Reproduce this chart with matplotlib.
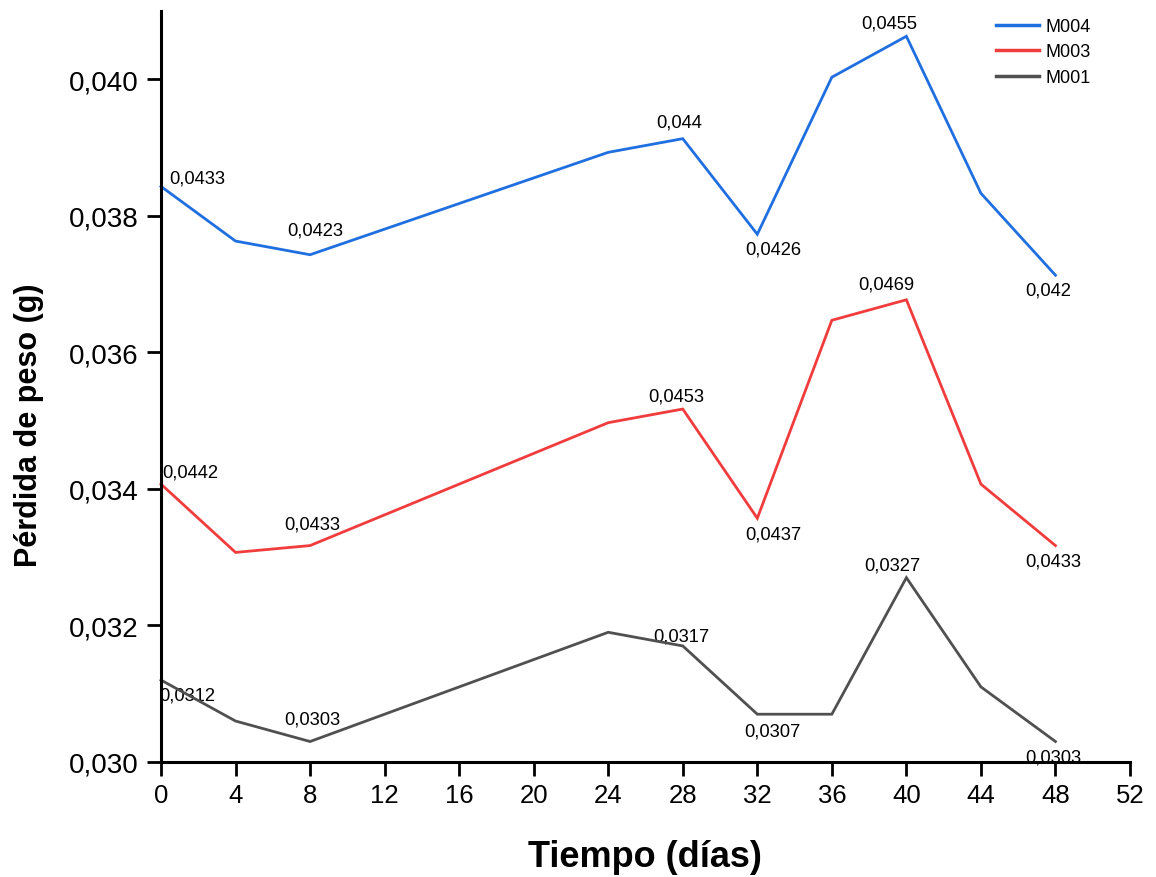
import matplotlib
matplotlib.use("Agg")
import matplotlib.pyplot as plt
from matplotlib.ticker import FuncFormatter, MultipleLocator

plt.rcParams['font.family'] = ['Liberation Sans', 'DejaVu Sans']

# Sampling days
days = [0, 4, 8, 24, 28, 32, 36, 40, 44, 48]

# Weight loss (g) per sample
m004 = [0.0433, 0.0425, 0.0423, 0.0438, 0.0440, 0.0426, 0.0449, 0.0455, 0.0432, 0.0420]
m003 = [0.0442, 0.0432, 0.0433, 0.0451, 0.0453, 0.0437, 0.0466, 0.0469, 0.0442, 0.0433]
m001 = [0.0312, 0.0306, 0.0303, 0.0319, 0.0317, 0.0307, 0.0307, 0.0327, 0.0311, 0.0303]

series_names = ["M004", "M003", "M001"]

# Vertical shift applied to each curve so they stack without overlapping
shift_m004 = 0.00487
shift_m003 = 0.01013
shift_m001 = 0.0

# Points that carry a value label
labeled_idx = [0, 2, 4, 5, 7, 9]

colors = {"M004": "#1f6fe0", "M003": "#f03c3c", "M001": "#505050"}

# label placement relative to its point, in pixels (dx, dy)
label_offsets = {
    "M004": [(36.6, 8.7), (5.5, 25), (-4, 16.6), (16, -14.7), (-17.3, 13), (-7, -14.7)],
    "M003": [(28.8, 12), (2.5, 22), (-6.3, 13), (16, -16), (-20, 16), (-2.5, -15.7)],
    "M001": [(26, -15), (2.5, 23), (-1, 10), (15.5, -16.4), (-14, 13), (-2.5, -15)],
}

W, H, DPI = 1156, 878, 100
fig = plt.figure(figsize=(W / DPI, H / DPI), dpi=DPI)
ax = fig.add_axes([161 / W, 1 - 763 / H, (1130 - 161) / W, (763 - 12) / H])

data = {"M004": (m004, shift_m004), "M003": (m003, shift_m003), "M001": (m001, shift_m001)}

for name in series_names:
    vals, shift = data[name]
    shown = [v - shift for v in vals]
    ax.plot(days, shown, color=colors[name], lw=2.0, label=name, solid_joinstyle='miter',
            clip_on=False, zorder=3)
    for k, i in enumerate(labeled_idx):
        dx, dy = label_offsets[name][k]
        txt = f"{vals[i]:g}".replace('.', ',')
        ax.annotate(txt, (days[i], shown[i]), xytext=(dx, dy), textcoords='offset pixels',
                    ha='center', va='center', fontsize=13.2, color='black', zorder=2,
                    annotation_clip=False)

ax.set_xlim(0, 52)
ax.set_ylim(0.030, 0.041)
ax.xaxis.set_major_locator(MultipleLocator(4))
ax.set_yticks([0.030, 0.032, 0.034, 0.036, 0.038, 0.040])
ax.yaxis.set_major_formatter(FuncFormatter(lambda v, p: f"{v:.3f}".replace('.', ',')))

for side in ("top", "right"):
    ax.spines[side].set_visible(False)
for side in ("left", "bottom"):
    ax.spines[side].set_linewidth(2.2)
    ax.spines[side].set_zorder(4)

ax.tick_params(axis='both', which='major', direction='out', length=10, width=2,
               pad=5, color='black')
ax.tick_params(axis='x', labelsize=18.5)
ax.tick_params(axis='y', labelsize=20, pad=6)

ax.set_xlabel("Tiempo (días)", fontsize=26, fontweight='bold')
ax.set_ylabel("Pérdida de peso (g)", fontsize=22, fontweight='bold')
ax.xaxis.set_label_coords((645 - 161) / (1130 - 161), -(840 - 763) / (763 - 12))
ax.yaxis.set_label_coords(-(161 - 44) / (1130 - 161), (763 - 425) / (763 - 12))

leg = ax.legend(loc='upper left', bbox_to_anchor=(996 / W, 1 - 19 / H),
                bbox_transform=fig.transFigure, frameon=False, fontsize=13,
                handlelength=2.4, handletextpad=0.35, labelspacing=0.47,
                borderpad=0, borderaxespad=0)
for line in leg.get_lines():
    line.set_linewidth(2.5)

fig.savefig("out.png", dpi=DPI, facecolor='white')
